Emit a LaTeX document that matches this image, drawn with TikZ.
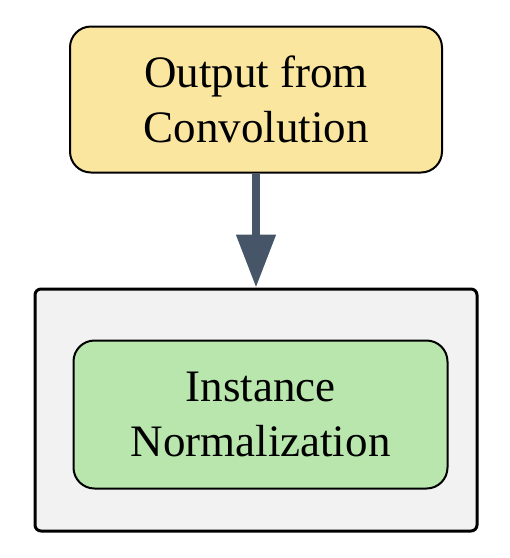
\documentclass[tikz,border=0pt]{standalone}
\usepackage{fontspec}
\setmainfont{Liberation Serif}
\usetikzlibrary{arrows.meta}
\definecolor{stageyellow}{RGB}{251,230,160}
\definecolor{stagegreen}{RGB}{184,230,172}
\definecolor{groupgray}{RGB}{242,242,242}
\definecolor{flowslate}{RGB}{71,85,105}
\begin{document}
\begin{tikzpicture}[
  x=1pt,
  y=-1pt,
  line join=round,
  stage/.style={rectangle,rounded corners=21pt,draw=black,line width=2pt,
    align=center,font=\fontsize{45}{55}\selectfont,inner sep=0pt},
  group/.style={rectangle,rounded corners=6pt,draw=black,line width=3pt,
    fill=groupgray,inner sep=0pt},
  flow/.style={draw=flowslate,line width=8pt,
    -{Triangle[length=53pt,width=38pt]}}
]
  \useasboundingbox (0,0) rectangle (510,558);
  % input stage
  \node[stage,fill=stageyellow,minimum width=372pt,minimum height=146pt]
    (output) at (256,99.5) {Output from\\Convolution};
  % normalization group
  \node[group,minimum width=442pt,minimum height=242pt]
    (normgroup) at (256,410) {};
  \node[stage,fill=stagegreen,minimum width=374pt,minimum height=148pt]
    (instnorm) at (260.5,414.5) {Instance\\Normalization};
  \draw[flow] (output.south) -- (normgroup.north);
\end{tikzpicture}
\end{document}
